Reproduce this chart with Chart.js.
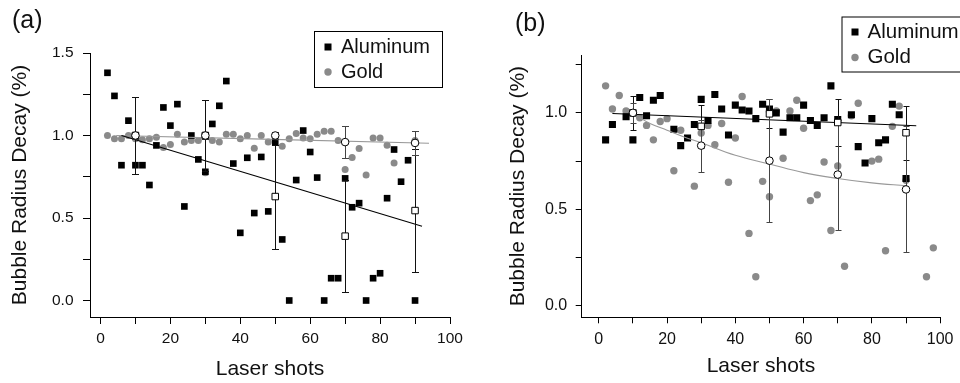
<!DOCTYPE html>
<html>
<head>
<meta charset="utf-8">
<script src="https://cdn.jsdelivr.net/npm/chart.js@4.4.1/dist/chart.umd.min.js"></script>
<style>
  html, body { margin: 0; padding: 0; background: #fff; }
  #wrap { position: relative; width: 960px; height: 383px; overflow: hidden; }
  canvas { position: absolute; top: 0; }
  #chart-a { left: 0; }
  #chart-b { left: 480px; }
</style>
</head>
<body>
<div id="wrap">
  <canvas id="chart-a" width="480" height="383"></canvas>
  <canvas id="chart-b" width="480" height="383"></canvas>
</div>
<script>
// Datos

const legendLabels = ['Aluminum', 'Gold'];
const panelNames = ['(a)', '(b)'];
const xTitle = 'Laser shots';
const yTitle = 'Bubble Radius Decay (%)';

// --- panel (a) ---
const alShotsA = [2,4,6,8,10,12,14,16,18,20,22,24,26,28,30,32,34,36,38,40,42,44,46,48,50,52,54,56,58,60,62,64,66,68,70,72,74,76,78,80,82,84,86,88,90];
const alDecayA = [1.38,1.24,0.82,1.09,0.82,0.82,0.70,0.94,1.17,1.06,1.19,0.57,1.00,0.855,0.78,1.07,1.18,1.33,0.83,0.41,0.865,0.53,0.87,0.54,0.96,0.37,0,0.73,1.03,0.90,0.745,0,0.135,0.135,0.74,0.565,0.59,0,0.135,0.165,0.62,0.915,0.72,0.85,0];

const goldShotsA = [2,4,6,8,10,12,14,16,18,20,22,24,26,28,30,32,34,36,38,40,42,44,46,48,50,52,54,56,58,60,62,64,66,68,70,72,74,76,78,80,82,84,90];
const goldDecayA = [1.0,0.98,0.98,1.0,0.98,0.975,0.98,0.99,0.927,0.945,1.008,0.961,0.97,0.97,0.775,0.97,0.96,1.008,1.008,0.98,1.0,0.923,1.0,0.961,0.99,0.935,0.98,1.012,0.985,0.98,1.008,1.026,1.026,0.97,0.794,0.867,0.921,0.761,0.985,0.985,0.941,0.834,0.97];

const meanShots = [10, 30, 50, 70, 90];
const alMeanA = [1.0, 1.0, 0.63, 0.39, 0.545];
const alErrA = [0.235, 0.215, 0.315, 0.34, 0.375];
const goldMeanA = [1.0, 1.0, 1.0, 0.96, 0.955];
const goldErrA = [0.02, 0.02, 0.02, 0.095, 0.075];

const alFitShotsA = [6, 92];
const alFitA = [1.0, 0.45];
const goldFitShotsA = [4.5, 94];
const goldFitA = [1.0, 0.953];

// --- panel (b) ---
const alShotsB = [2,4,8,10,12,14,16,18,22,24,26,28,30,32,34,36,38,40,42,44,46,48,50,52,54,56,58,60,62,64,66,68,70,74,76,78,80,82,84,86,88,90];
const alDecayB = [0.86,0.94,0.98,0.86,1.08,0.985,1.065,1.09,0.915,0.83,0.87,0.94,1.07,0.96,1.095,1.02,0.885,1.04,1.015,1.01,0.97,1.045,1.02,1.0,0.90,0.975,0.975,1.04,0.96,0.935,0.975,1.14,0.965,0.99,0.825,0.74,0.97,0.845,0.86,1.045,0.99,0.66];

const goldShotsB = [2,4,6,8,12,14,16,18,20,22,24,28,30,32,34,36,38,40,42,44,46,48,50,52,54,56,58,60,62,64,66,68,70,72,74,76,80,82,84,86,88,90,96,98];
const goldDecayB = [1.14,1.02,1.09,1.01,0.975,0.935,0.86,0.955,0.97,0.70,0.91,0.62,0.895,0.935,0.835,0.945,0.64,0.87,1.085,0.375,0.15,0.645,0.565,1.01,0.765,1.01,1.065,0.92,0.545,0.575,0.745,0.39,0.725,0.205,0.985,1.05,0.75,0.76,0.285,0.93,1.035,0.65,0.15,0.30];

const alMeanB = [1.0, 0.93, 0.995, 0.95, 0.897];
const alErrB = [0.09, 0.11, 0.075, 0.12, 0.14];
const goldMeanB = [1.0, 0.83, 0.752, 0.68, 0.603];
const goldErrB = [0.05, 0.135, 0.32, 0.285, 0.327];

const alFitShotsB = [4, 93];
const alFitB = [0.997, 0.933];
const goldFitShotsB = [12, 15, 20, 25, 30, 40, 50, 60, 70, 80, 90];
const goldFitB = [0.975, 0.945, 0.91, 0.875, 0.845, 0.78, 0.735, 0.69, 0.66, 0.637, 0.622];

const FONT = '"Liberation Sans", Arial, Helvetica, sans-serif';
const GOLD = '#8a8a8a';

Chart.defaults.font.family = FONT;
Chart.defaults.color = '#111';

const pts = (xs, ys) => xs.map((x, i) => ({ x, y: ys[i] }));

// barras de error: se dibujan justo antes de los cuadrados huecos
const errorBars = {
  id: 'errorBars',
  beforeDatasetDraw(chart, args, opts) {
    if (args.index !== 1) return;
    const { x, y } = chart.scales;
    const ctx = chart.ctx;
    ctx.save();
    ctx.lineWidth = 1;
    opts.sets.forEach(set => {
      ctx.strokeStyle = set.color;
      ctx.beginPath();
      set.x.forEach((sx, i) => {
        const px = Math.round(x.getPixelForValue(sx)) + 0.5;
        const top = Math.round(y.getPixelForValue(set.y[i] + set.err[i])) + 0.5;
        const bot = Math.round(y.getPixelForValue(set.y[i] - set.err[i])) + 0.5;
        ctx.moveTo(px, top); ctx.lineTo(px, bot);
        ctx.moveTo(px - opts.cap, top); ctx.lineTo(px + opts.cap, top);
        ctx.moveTo(px - opts.cap, bot); ctx.lineTo(px + opts.cap, bot);
      });
      ctx.stroke();
    });
    ctx.restore();
  }
};

// leyenda con recuadro y etiqueta del panel
const boxLegend = {
  id: 'boxLegend',
  afterDraw(chart, args, o) {
    const ctx = chart.ctx;
    ctx.save();
    ctx.strokeStyle = '#000';
    ctx.lineWidth = 1;
    ctx.strokeRect(o.x + 0.5, o.y + 0.5, o.w, o.h);
    ctx.font = o.size + 'px ' + FONT;
    ctx.textBaseline = 'middle';
    ctx.fillStyle = '#111';
    legendLabels.forEach((label, i) => {
      const cy = o.y + o.rows[i];
      if (i === 0) {
        ctx.fillStyle = '#000';
        ctx.fillRect(o.x + o.mx - 3.5, cy - 3.5, 7, 7);
      } else {
        ctx.fillStyle = GOLD;
        ctx.beginPath();
        ctx.arc(o.x + o.mx, cy, 3.7, 0, Math.PI * 2);
        ctx.fill();
      }
      ctx.fillStyle = '#111';
      ctx.fillText(label, o.x + o.tx, cy);
    });
    ctx.font = '25px ' + FONT;
    ctx.fillText(o.panel, o.px, o.py);
    ctx.restore();
  }
};

function buildChart(id, cfg) {
  const datasets = [
    { label: 'Gold mean', data: pts(meanShots, cfg.goldMean), pointStyle: 'circle', pointRadius: cfg.hollowR,
      backgroundColor: '#fff', borderColor: '#000', borderWidth: 1 },
    { label: 'Aluminum mean', data: pts(meanShots, cfg.alMean), pointStyle: 'rect', pointRadius: cfg.hollowSq,
      backgroundColor: '#fff', borderColor: '#000', borderWidth: 1 },
    { label: 'Aluminum fit', data: pts(cfg.alFitX, cfg.alFit), showLine: true, pointRadius: 0,
      borderColor: '#000', borderWidth: 1.1 },
    { label: 'Gold fit', data: pts(cfg.goldFitX, cfg.goldFit), showLine: true, pointRadius: 0, tension: 0.4,
      borderColor: '#999', borderWidth: 1.1 },
    { label: legendLabels[0], data: pts(cfg.alX, cfg.alY), pointStyle: 'rect', pointRadius: cfg.sqR,
      backgroundColor: '#000', borderWidth: 0 },
    { label: legendLabels[1], data: pts(cfg.goldX, cfg.goldY), pointStyle: 'circle', pointRadius: cfg.dotR,
      backgroundColor: GOLD, borderWidth: 0 },
  ];

  return new Chart(document.getElementById(id), {
    type: 'scatter',
    data: { datasets },
    plugins: [errorBars, boxLegend],
    options: {
      responsive: false,
      animation: false,
      events: [],
      layout: { padding: cfg.padding },
      plugins: {
        legend: { display: false },
        tooltip: { enabled: false },
        errorBars: {
          cap: cfg.cap,
          sets: [
            { x: meanShots, y: cfg.alMean, err: cfg.alErr, color: '#111' },
            { x: meanShots, y: cfg.goldMean, err: cfg.goldErr, color: '#444' },
          ]
        },
        boxLegend: cfg.legend,
      },
      scales: {
        x: {
          type: 'linear',
          min: cfg.xMin, max: 100,
          afterFit: s => { s.height = cfg.xHeight; },
          border: { color: '#000', width: 1 },
          grid: { drawOnChartArea: false, color: '#000', tickLength: cfg.tickLen },
          ticks: {
            stepSize: 10, includeBounds: false, autoSkip: false, maxRotation: 0,
            padding: cfg.xPad, font: { size: cfg.tickSize }, color: '#111',
            callback: v => (v % 20 === 0 ? v : ''),
          },
          title: { display: true, text: xTitle, font: { size: 21 }, color: '#111',
                   padding: { top: 0, bottom: cfg.xTitlePad } },
        },
        y: {
          min: cfg.yMin, max: cfg.yMax,
          afterFit: s => { s.width = cfg.yWidth; },
          border: { color: '#000', width: 1 },
          grid: { drawOnChartArea: false, color: '#000', tickLength: cfg.tickLen },
          ticks: {
            stepSize: 0.25, includeBounds: false, autoSkip: false,
            padding: cfg.yPad, font: { size: cfg.tickSize }, color: '#111',
            callback: v => (Math.abs(v * 2 - Math.round(v * 2)) < 1e-6 ? v.toFixed(1) : ''),
          },
          title: { display: true, text: yTitle, font: { size: 21 }, color: '#111',
                   padding: { top: cfg.yTitlePad, bottom: 0 } },
        },
      },
    },
  });
}

buildChart('chart-a', {
  alX: alShotsA, alY: alDecayA, goldX: goldShotsA, goldY: goldDecayA,
  alMean: alMeanA, alErr: alErrA, goldMean: goldMeanA, goldErr: goldErrA,
  alFitX: alFitShotsA, alFit: alFitA, goldFitX: goldFitShotsA, goldFit: goldFitA,
  xMin: -3, yMin: -0.1, yMax: 1.5,
  padding: { left: 0, right: 30, top: 53, bottom: 0 },
  xHeight: 66, yWidth: 90, tickLen: 7, tickSize: 15.5, xPad: 5, yPad: 9.5,
  xTitlePad: 1, yTitlePad: 8,
  sqR: 4.7, dotR: 3.5, hollowR: 3.8, hollowSq: 4.6, cap: 3.5,
  legend: { x: 314, y: 31, w: 128, h: 56, rows: [16, 41], mx: 14, tx: 27, size: 20,
            panel: panelNames[0], px: 12, py: 21 },
});

buildChart('chart-b', {
  alX: alShotsB, alY: alDecayB, goldX: goldShotsB, goldY: goldDecayB,
  alMean: alMeanB, alErr: alErrB, goldMean: goldMeanB, goldErr: goldErrB,
  alFitX: alFitShotsB, alFit: alFitB, goldFitX: goldFitShotsB, goldFit: goldFitB,
  xMin: -5, yMin: -0.06, yMax: 1.3,
  padding: { left: 0, right: 19, top: 55, bottom: 0 },
  xHeight: 65.7, yWidth: 101.7, tickLen: 6, tickSize: 16, xPad: 6.5, yPad: 8.5,
  xTitlePad: 4.4, yTitlePad: 25.7,
  sqR: 5, dotR: 3.7, hollowR: 3.8, hollowSq: 4.6, cap: 3,
  legend: { x: 361.5, y: 16.5, w: 140, h: 55, rows: [15.5, 41], mx: 13.5, tx: 26, size: 20.5,
            panel: panelNames[1], px: 35, py: 24 },
});
</script>
</body>
</html>
